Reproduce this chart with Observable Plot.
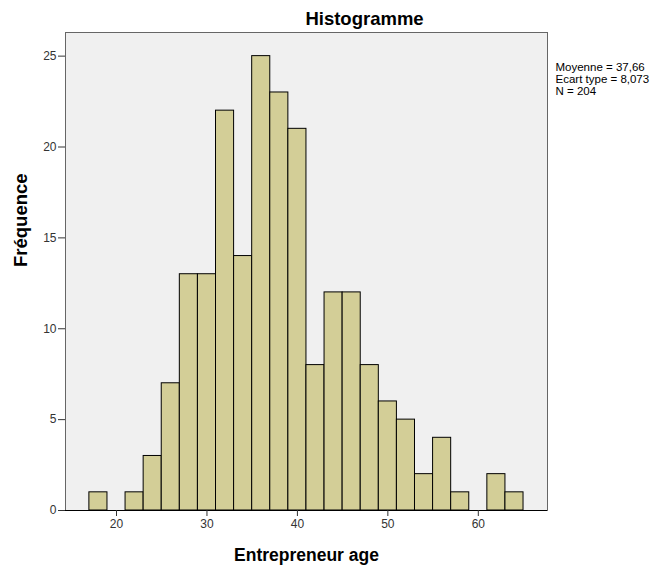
<!DOCTYPE html>
<html>
<head>
<meta charset="utf-8">
<script src="https://cdn.jsdelivr.net/npm/d3@7"></script>
<script src="https://cdn.jsdelivr.net/npm/@observablehq/plot@0.6"></script>
<style>
  html, body { margin: 0; padding: 0; background: #fff; }
  svg { display: block; }
</style>
</head>
<body>
<div id="chart"></div>
<script>
// Bin edges (Entrepreneur age) and frequencies
const binLow  = [17, 19, 21, 23, 25, 27, 29, 31, 33, 35, 37, 39, 41, 43, 45, 47, 49, 51, 53, 55, 57, 59, 61, 63];
const binHigh = [19, 21, 23, 25, 27, 29, 31, 33, 35, 37, 39, 41, 43, 45, 47, 49, 51, 53, 55, 57, 59, 61, 63, 65];
const counts  = [1, 0, 1, 3, 7, 13, 13, 22, 14, 25, 23, 21, 8, 12, 12, 8, 6, 5, 2, 4, 1, 0, 2, 1];
const xTicks = [20, 30, 40, 50, 60];
const yTicks = [0, 5, 10, 15, 20, 25];
const title = "Histogramme";
const xLabel = "Entrepreneur age";
const yLabel = "Fréquence";
const stats = ["Moyenne = 37,66", "Ecart type = 8,073", "N = 204"];

const bins = binLow.map((lo, i) => ({x1: lo, x2: binHigh[i], y: counts[i]})).filter(d => d.y > 0);

const font = "'Liberation Sans', Arial, sans-serif";

const statMarks = stats.map((s, i) =>
  Plot.text([s], {frameAnchor: "top-right", dx: 8, dy: 30 + i * 12, textAnchor: "start", lineAnchor: "top", fontSize: 11.5, fill: "#000"})
);

const chart = Plot.plot({
  width: 661,
  height: 570,
  marginLeft: 65,
  marginRight: 114,
  marginTop: 32,
  marginBottom: 60,
  style: {fontFamily: font, fontSize: "12px", color: "#333", background: "#fff"},
  x: {domain: [14.36, 67.65], label: null},
  y: {domain: [0, 26.3], label: null},
  marks: [
    Plot.frame({fill: "#f0f0f0", stroke: "none"}),
    Plot.rectY(bins, {x1: "x1", x2: "x2", y: "y", fill: "#d3ce97", stroke: "#000", strokeWidth: 1}),
    Plot.frame({stroke: "#666", strokeWidth: 1}),
    Plot.ruleY([0], {stroke: "#000"}),
    Plot.axisY({ticks: yTicks, tickSize: 7, tickPadding: 2, label: null, fill: "#333", fontSize: 12}),
    Plot.axisX({ticks: xTicks, tickSize: 6, tickPadding: 3, label: null, fill: "#333", fontSize: 12}),
    Plot.text([title], {frameAnchor: "top-left", dx: 299, dy: -21, lineAnchor: "top", textAnchor: "middle", fontSize: 18.5, fontWeight: "bold", fill: "#000"}),
    Plot.text([xLabel], {frameAnchor: "bottom", dy: 38, lineAnchor: "top", fontSize: 17.5, fontWeight: "bold", fill: "#000"}),
    Plot.text([yLabel], {frameAnchor: "left", dx: -44, dy: -4.5, rotate: -90, fontSize: 18.5, fontWeight: "bold", fill: "#000"}),
    ...statMarks
  ]
});
document.getElementById("chart").appendChild(chart);
</script>
</body>
</html>
